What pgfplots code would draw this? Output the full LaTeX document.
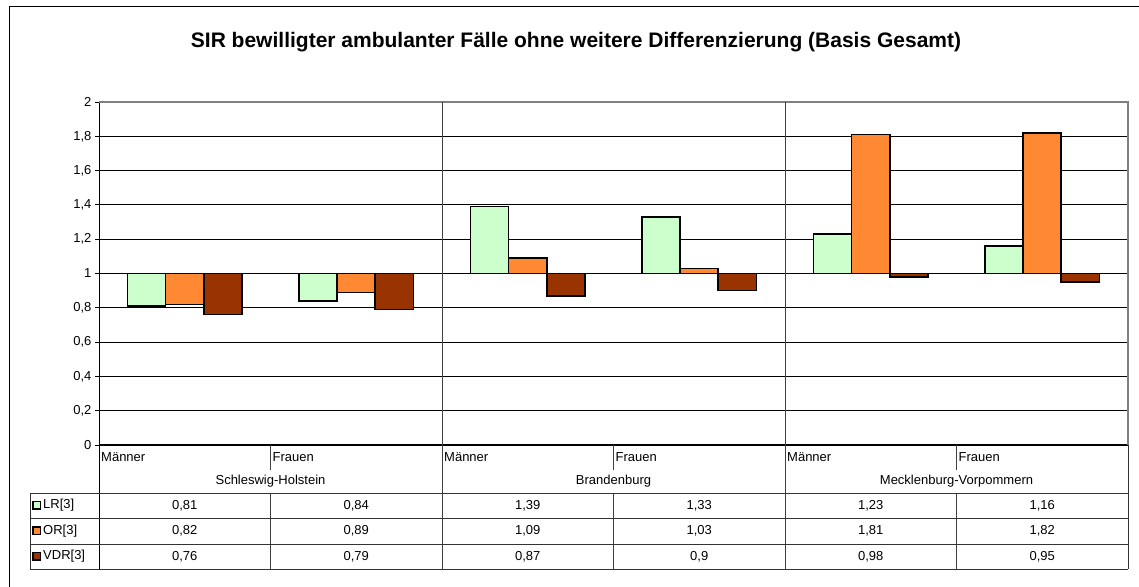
\documentclass[border=0pt]{standalone}
\usepackage{pgfplots}
\usepackage{pgfplotstable}
\pgfplotsset{compat=1.18}
\usepackage{fontspec}
\setmainfont{Liberation Sans}

\definecolor{lrc}{HTML}{CCFFCC}
\definecolor{orc}{HTML}{FF8833}
\definecolor{vdrc}{HTML}{993300}
\definecolor{frame}{HTML}{808080}

% x: 0..5 = SH M/F, BB M/F, MV M/F
\pgfplotstableread{
x LR OR VDR
0 0.81 0.82 0.76
1 0.84 0.89 0.79
2 1.39 1.09 0.87
3 1.33 1.03 0.90
4 1.23 1.81 0.98
5 1.16 1.82 0.95
}\sirdata

\begin{document}
\begin{tikzpicture}[x=1pt,y=1pt]
\useasboundingbox (0,0) rectangle (1139,586);
\draw[black, line width=1pt] (9,-20) -- (9,579) -- (1160,579);

\node[font=\bfseries\fontsize{21}{24}\selectfont] at (576,544)
  {SIR bewilligter ambulanter Fälle ohne weitere Differenzierung (Basis Gesamt)};

\begin{axis}[
    at={(99pt,141pt)}, anchor=south west,
    scale only axis,
    width=1029pt, height=343pt,
    xmin=-0.5, xmax=5.5,
    ymin=-1, ymax=1,
    ybar=0pt, bar width=38.1pt,
    xtick=\empty,
    ytick={-1,-0.8,-0.6,-0.4,-0.2,0,0.2,0.4,0.6,0.8,1},
    yticklabels={0,{0,2},{0,4},{0,6},{0,8},1,{1,2},{1,4},{1,6},{1,8},2},
    ticklabel style={font=\fontsize{13}{15}\selectfont},
    ytick style={black, line width=0.8pt},
    tick align=outside,
    major tick length=4pt,
    ymajorgrids,
    grid style={black, line width=0.8pt},
    axis x line*=bottom,
    axis y line*=left,
    axis line style={black, line width=1pt, -},
    clip=false,
]
\addplot[fill=lrc, draw=black, line width=1.6pt] table[x=x, y expr=\thisrow{LR}-1]{\sirdata};
\addplot[fill=orc, draw=black, line width=1.6pt] table[x=x, y expr=\thisrow{OR}-1]{\sirdata};
\addplot[fill=vdrc, draw=black, line width=1.6pt] table[x=x, y expr=\thisrow{VDR}-1]{\sirdata};
\end{axis}

% plot area frame
\draw[frame, line width=1.6pt] (99,484) -- (1128,484) -- (1128,141);
\draw[black!80, line width=1pt] (1128,141) -- (1128,17);
\draw[black!75, line width=0.8pt] (442,484) -- (442,17) (785,484) -- (785,17);
\draw[black, line width=1pt] (99,141) -- (99,17);
\foreach \xx in {270.5,613.5,956.5} {
  \draw[black!75, line width=0.8pt] (\xx,141) -- (\xx,116) (\xx,93) -- (\xx,17);
}
\foreach \yy in {93,68,42,17} {
  \draw[black!80, line width=0.8pt] (30,\yy) -- (1128,\yy);
}
\draw[black!80, line width=0.8pt] (30,93) -- (30,17);

% category labels
\begin{scope}[every node/.style={font=\fontsize{13}{15}\selectfont, inner sep=0pt}]
\foreach \xx in {99,442,785} {
  \node[anchor=west] at (\xx+2,129) {Männer};
  \node[anchor=west] at (\xx+173.5,129) {Frauen};
}
\node at (270.5,105) {Schleswig-Holstein};
\node at (613.5,105) {Brandenburg};
\node at (956.5,105) {Mecklenburg-Vorpommern};

% data table
\foreach \v [count=\i from 0] in {{0,81},{0,84},{1,39},{1,33},{1,23},{1,16}}
  \node at (184.75+171.5*\i,80.5) {\v};
\foreach \v [count=\i from 0] in {{0,82},{0,89},{1,09},{1,03},{1,81},{1,82}}
  \node at (184.75+171.5*\i,55) {\v};
\foreach \v [count=\i from 0] in {{0,76},{0,79},{0,87},{0,9},{0,98},{0,95}}
  \node at (184.75+171.5*\i,29.5) {\v};

\node[anchor=west] at (43,80.5) {LR[3]};
\node[anchor=west] at (43,55) {OR[3]};
\node[anchor=west] at (43,29.5) {VDR[3]};
\end{scope}
\draw[black, line width=1.4pt, fill=lrc] (33,77) rectangle (40.5,84.5);
\draw[black, line width=1.4pt, fill=orc] (33,51.5) rectangle (40.5,59);
\draw[black, line width=1.4pt, fill=vdrc] (33,26) rectangle (40.5,33.5);
\end{tikzpicture}
\end{document}
